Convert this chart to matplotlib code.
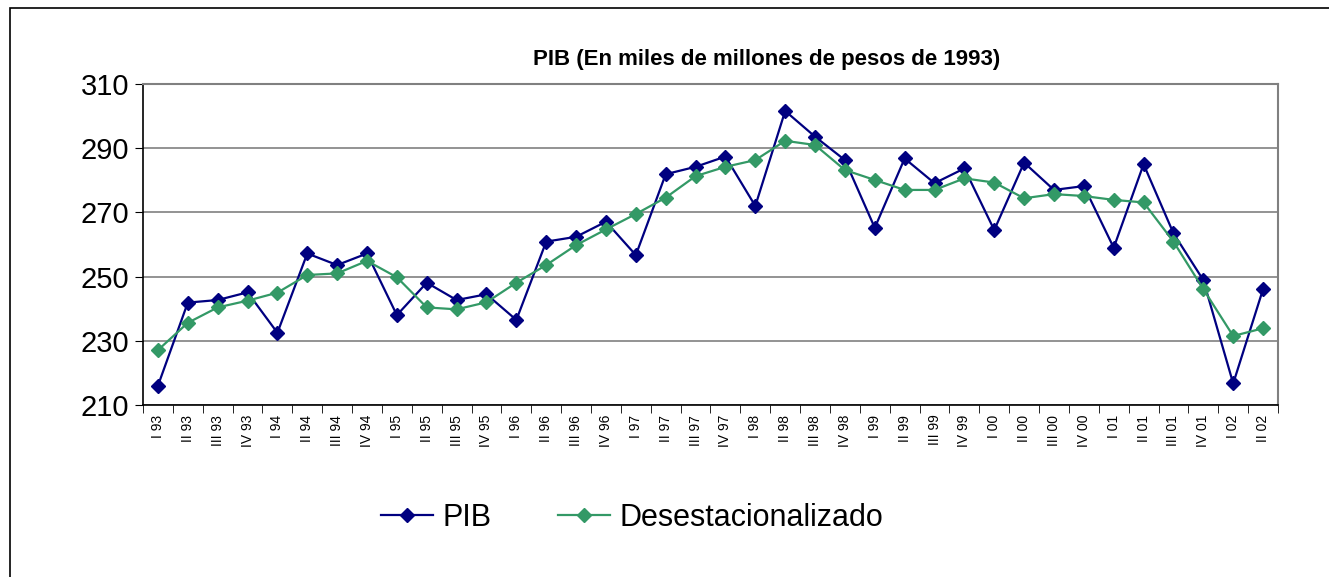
import matplotlib
matplotlib.use("Agg")
import matplotlib.pyplot as plt
from matplotlib.patches import Rectangle
import numpy as np

plt.rcParams['font.family'] = ['Liberation Sans', 'DejaVu Sans']

# --- Data (miles de millones de pesos de 1993) ---
quarters = []
for yy in ["93", "94", "95", "96", "97", "98", "99", "00", "01"]:
    for q in ["I", "II", "III", "IV"]:
        quarters.append(f"{q} {yy}")
quarters += ["I 02", "II 02"]

pib = [216.0, 241.9, 242.7, 245.1, 232.5, 257.2, 253.6, 257.2, 238.0, 248.1,
       242.7, 244.5, 236.5, 260.9, 262.4, 267.1, 256.7, 281.9, 284.2, 287.4,
       272.0, 301.6, 293.6, 286.3, 265.2, 286.8, 279.1, 283.7, 264.5, 285.5,
       277.0, 278.2, 259.0, 285.0, 263.5, 248.9, 216.7, 246.1]

desest = [227.1, 235.6, 240.4, 242.5, 245.0, 250.5, 251.0, 254.9, 249.8, 240.4,
          239.8, 242.0, 248.1, 253.6, 259.8, 264.7, 269.5, 274.6, 281.3, 284.2,
          286.3, 292.3, 291.0, 283.2, 280.1, 277.0, 277.0, 280.6, 279.3, 274.4,
          275.7, 275.1, 273.9, 273.1, 260.9, 246.1, 231.5, 233.9]

yticks = [210, 230, 250, 270, 290, 310]

COL_PIB = '#000080'
COL_DES = '#339966'

W, H = 1329, 577
fig = plt.figure(figsize=(W / 100, H / 100), dpi=100)
ax = fig.add_axes([143 / W, 1 - 405 / H, (1278 - 143) / W, (405 - 84) / H])

x = np.arange(len(quarters))
ax.plot(x, pib, color=COL_PIB, lw=1.6, marker='D', ms=7, label='PIB', zorder=3)
ax.plot(x, desest, color=COL_DES, lw=1.6, marker='D', ms=7,
        label='Desestacionalizado', zorder=3)

ax.set_xlim(-0.5, len(quarters) - 0.5)
ax.set_ylim(210, 310)
ax.set_yticks(yticks)
ax.tick_params(axis='y', labelsize=21, length=6, direction='out', pad=4)
ax.yaxis.grid(True, color='#808080', lw=1.2)
ax.set_axisbelow(True)

# category labels centred, tick marks on boundaries
ax.set_xticks(x)
ax.set_xticklabels(quarters, rotation=90, fontsize=10)
ax.tick_params(axis='x', which='major', length=0, pad=7)
ax.set_xticks(np.arange(-0.5, len(quarters)), minor=True)
ax.tick_params(axis='x', which='minor', length=6, direction='out', color='black')

for side in ['top', 'right']:
    ax.spines[side].set_color('#808080')
    ax.spines[side].set_linewidth(1.5)
for side in ['left', 'bottom']:
    ax.spines[side].set_color('black')
    ax.spines[side].set_linewidth(1.2)

fig.text(767 / W, 1 - 60 / H, 'PIB (En miles de millones de pesos de 1993)',
         ha='center', va='center', fontsize=16, fontweight='bold')

fig.legend(loc='center', bbox_to_anchor=(632 / W, 1 - 518 / H), ncol=2,
           frameon=False, fontsize=22, handlelength=1.7, columnspacing=2.2,
           handletextpad=0.3)

# outer chart frame
fig.patches.append(Rectangle((10 / W, -0.1), 1.2, 1 - 8 / H + 0.1,
                             transform=fig.transFigure, fill=False,
                             edgecolor='black', lw=1.2))

fig.savefig('out.png', dpi=100)
